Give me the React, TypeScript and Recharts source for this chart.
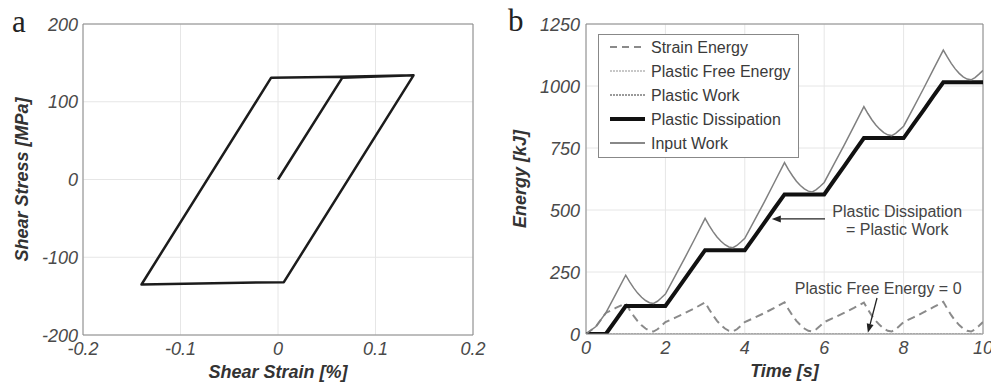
import React from 'react';
import {
  LineChart,
  Line,
  XAxis,
  YAxis,
  CartesianGrid,
  ReferenceLine,
  ReferenceDot,
  Legend,
} from 'recharts';

const FONT = '"Liberation Sans", Arial, Helvetica, sans-serif';

// ---------- Panel a: hysteresis loop ----------
const strainValues = [0, 0.066, 0.139, 0.006, -0.14, -0.007, 0.066, 0.139];
const stressValues = [0, 131, 134, -132, -135, 131, 132, 134];
const strainTicks = [-0.2, -0.1, 0, 0.1, 0.2];
const stressTicks = [-200, -100, 0, 100, 200];

// ---------- Panel b: energies vs time ----------
const timeValues = [
  0, 0.25, 0.5, 0.75, 1,
  1.1, 1.2, 1.3, 1.4, 1.5, 1.6, 1.7, 1.8, 1.9, 2, 2.25, 2.5, 2.75, 3,
  3.1, 3.2, 3.3, 3.4, 3.5, 3.6, 3.7, 3.8, 3.9, 4, 4.25, 4.5, 4.75, 5,
  5.1, 5.2, 5.3, 5.4, 5.5, 5.6, 5.7, 5.8, 5.9, 6, 6.25, 6.5, 6.75, 7,
  7.1, 7.2, 7.3, 7.4, 7.5, 7.6, 7.7, 7.8, 7.9, 8, 8.25, 8.5, 8.75, 9,
  9.1, 9.2, 9.3, 9.4, 9.5, 9.6, 9.7, 9.8, 9.9, 10,
];
const strainEnergy = [
  0, 30, 85, 105, 124,
  97, 73, 52, 35, 22, 13, 10, 19, 33, 48, 66, 85, 105, 128,
  100, 75, 53, 36, 22, 13, 10, 19, 33, 48, 66, 85, 106, 128,
  100, 75, 53, 36, 22, 13, 10, 19, 33, 48, 66, 85, 105, 127,
  99, 74, 53, 36, 22, 13, 10, 19, 33, 48, 67, 87, 108, 130,
  102, 76, 54, 36, 22, 13, 10, 19, 33, 48,
];
const plasticDissipation = [
  0, 0, 0, 56, 113,
  113, 113, 113, 113, 113, 113, 113, 113, 113, 113, 169, 225, 282, 338,
  338, 338, 338, 338, 338, 338, 338, 338, 338, 338, 394, 450, 507, 563,
  563, 563, 563, 563, 563, 563, 563, 563, 563, 563, 620, 676, 733, 790,
  790, 790, 790, 790, 790, 790, 790, 790, 790, 790, 846, 902, 959, 1015,
  1015, 1015, 1015, 1015, 1015, 1015, 1015, 1015, 1015, 1015,
];
const inputWork = [
  0, 30, 85, 161, 237,
  210, 186, 165, 148, 135, 126, 123, 132, 146, 161, 235, 310, 387, 466,
  438, 413, 391, 374, 360, 351, 348, 357, 371, 386, 460, 535, 613, 691,
  663, 638, 616, 599, 585, 576, 573, 582, 596, 611, 686, 761, 838, 917,
  889, 864, 843, 826, 812, 803, 800, 809, 823, 838, 913, 989, 1067, 1145,
  1117, 1091, 1069, 1051, 1037, 1028, 1025, 1034, 1048, 1063,
];
// Plastic Work equals Plastic Dissipation (as annotated in the figure)
const plasticWork = plasticDissipation;
const freeEnergyTime = [0, 10];
const freeEnergyValues = [0, 0];
const timeTicks = [0, 2, 4, 6, 8, 10];
const energyTicks = [0, 250, 500, 750, 1000, 1250];

const legendItems = [
  { label: 'Strain Energy', stroke: '#8a8a8a', width: 2, dash: '7 5' },
  { label: 'Plastic Free Energy', stroke: '#c8c8c8', width: 2, dash: '2 1' },
  { label: 'Plastic Work', stroke: '#9a9a9a', width: 2, dash: '2 1' },
  { label: 'Plastic Dissipation', stroke: '#111', width: 4, dash: undefined },
  { label: 'Input Work', stroke: '#888', width: 2, dash: undefined },
];

const loopData = strainValues.map((s, i) => ({ strain: s, stress: stressValues[i] }));
const energyData = timeValues.map((t, i) => ({
  t,
  se: strainEnergy[i],
  pd: plasticDissipation[i],
  pw: plasticWork[i],
  iw: inputWork[i],
}));
const freeData = freeEnergyTime.map((t, i) => ({ t, pfe: freeEnergyValues[i] }));

const tickStyle = {
  fontFamily: FONT,
  fontSize: 18,
  fontStyle: 'italic' as const,
  fill: '#4a4a4a',
};

const XTick = (props: any) => {
  const { x, y, payload } = props;
  return (
    <text x={x} y={y + 20} textAnchor="middle" {...tickStyle}>
      {String(payload.value)}
    </text>
  );
};

const YTickA = (props: any) => {
  const { x, y, payload } = props;
  return (
    <text x={x - 5} y={y + 6.5} textAnchor="end" {...tickStyle}>
      {String(payload.value)}
    </text>
  );
};
const YTickB = (props: any) => {
  const { x, y, payload } = props;
  return (
    <text x={x - 6} y={y + 6.5} textAnchor="end" {...tickStyle}>
      {String(payload.value)}
    </text>
  );
};

const titleStyle = {
  fontFamily: FONT,
  fontSize: 18,
  fontStyle: 'italic' as const,
  fontWeight: 'bold' as const,
  fill: '#333',
};

const makeXTitle = (text: string) => (props: any) => {
  const vb = props.viewBox || {};
  const cx = (vb.x ?? 0) + (vb.width ?? 0) / 2;
  const y = (vb.y ?? 0) + 43;
  return (
    <text x={cx} y={y} textAnchor="middle" {...titleStyle}>
      {text}
    </text>
  );
};

const makeYTitle = (text: string, fromRight: number) => (props: any) => {
  const vb = props.viewBox || {};
  const x = (vb.x ?? 0) + (vb.width ?? 0) - fromRight;
  const cy = (vb.y ?? 0) + (vb.height ?? 0) / 2;
  return (
    <text
      x={x}
      y={cy}
      textAnchor="middle"
      transform={`rotate(-90, ${x}, ${cy})`}
      {...titleStyle}
    >
      {text}
    </text>
  );
};

const ArrowShape = (props: any) => {
  const { x1, y1, x2, y2 } = props;
  const ang = Math.atan2(y2 - y1, x2 - x1);
  const L = 9;
  const W = 3.5;
  const bx = x2 - L * Math.cos(ang);
  const by = y2 - L * Math.sin(ang);
  const px = -Math.sin(ang) * W;
  const py = Math.cos(ang) * W;
  return (
    <g>
      <line x1={x1} y1={y1} x2={bx} y2={by} stroke="#222" strokeWidth={1.3} />
      <polygon points={`${x2},${y2} ${bx + px},${by + py} ${bx - px},${by - py}`} fill="#222" />
    </g>
  );
};

const annoStyle = { fontFamily: FONT, fontSize: 16, fill: '#444' };

const DissipationText = (props: any) => {
  const { cx, cy } = props;
  return (
    <g>
      <text x={cx} y={cy} textAnchor="middle" {...annoStyle}>
        Plastic Dissipation
      </text>
      <text x={cx} y={cy + 18} textAnchor="middle" {...annoStyle}>
        = Plastic Work
      </text>
    </g>
  );
};

const FreeEnergyText = (props: any) => {
  const { cx, cy } = props;
  return (
    <text x={cx} y={cy} textAnchor="middle" {...annoStyle}>
      Plastic Free Energy = 0
    </text>
  );
};

const renderLegend = () => (
  <svg width={201} height={124} style={{ display: 'block' }}>
    <rect x={0.5} y={0.5} width={200} height={123} fill="#fff" stroke="#888" strokeWidth={1} />
    {legendItems.map((it, i) => {
      const cy = 13 + i * 24;
      return (
        <g key={it.label}>
          <line
            x1={12}
            x2={47}
            y1={cy}
            y2={cy}
            stroke={it.stroke}
            strokeWidth={it.width}
            strokeDasharray={it.dash}
          />
          <text x={53} y={cy + 5.8} fontFamily={FONT} fontSize={16} fill="#3a3a3a">
            {it.label}
          </text>
        </g>
      );
    })}
  </svg>
);

export default function App() {
  return (
    <div
      style={{
        position: 'absolute',
        left: 0,
        top: 0,
        width: 991,
        height: 383,
        background: '#fff',
        overflow: 'hidden',
      }}
    >
      <div style={{ position: 'absolute', left: 0, top: 0 }}>
        <LineChart
          width={495}
          height={383}
          data={loopData}
          margin={{ top: 24, right: 22, bottom: 0, left: 23 }}
        >
          <CartesianGrid stroke="#e6e6e6" />
          <XAxis
            type="number"
            dataKey="strain"
            domain={[-0.2, 0.2]}
            ticks={strainTicks}
            height={48}
            tickSize={0}
            tickMargin={0}
            tickLine={false}
            stroke="#888"
            tick={<XTick />}
            interval={0}
            allowDataOverflow
            label={makeXTitle('Shear Strain [%]')}
          />
          <YAxis
            type="number"
            domain={[-200, 200]}
            ticks={stressTicks}
            width={60}
            tickSize={0}
            tickMargin={0}
            tickLine={false}
            stroke="#888"
            tick={<YTickA />}
            interval={0}
            allowDataOverflow
            label={makeYTitle('Shear Stress [MPa]', 55)}
          />
          <ReferenceLine y={200} stroke="#888" strokeWidth={1} />
          <ReferenceLine x={0.2} stroke="#888" strokeWidth={1} />
          <Line
            type="linear"
            dataKey="stress"
            stroke="#1c1c1c"
            strokeWidth={2.5}
            dot={false}
            isAnimationActive={false}
            strokeLinejoin="round"
          />
        </LineChart>
      </div>

      <div style={{ position: 'absolute', left: 495, top: 0 }}>
        <LineChart
          width={496}
          height={383}
          data={energyData}
          margin={{ top: 24, right: 8, bottom: 0, left: 21 }}
        >
          <CartesianGrid stroke="#e6e6e6" />
          <XAxis
            type="number"
            dataKey="t"
            domain={[0, 10]}
            ticks={timeTicks}
            height={49}
            tickSize={0}
            tickMargin={0}
            tickLine={false}
            stroke="#888"
            tick={<XTick />}
            interval={0}
            allowDataOverflow
            label={makeXTitle('Time [s]')}
          />
          <YAxis
            type="number"
            domain={[0, 1250]}
            ticks={energyTicks}
            width={70}
            tickSize={0}
            tickMargin={0}
            tickLine={false}
            stroke="#888"
            tick={<YTickB />}
            interval={0}
            allowDataOverflow
            label={makeYTitle('Energy [kJ]', 60)}
          />
          <ReferenceLine y={1250} stroke="#888" strokeWidth={1} />
          <ReferenceLine x={10} stroke="#888" strokeWidth={1} />
          <Legend
            layout="vertical"
            align="center"
            verticalAlign="middle"
            wrapperStyle={{ left: 103, top: 34, width: 201, height: 124 }}
            content={renderLegend}
          />
          <Line
            data={freeData}
            dataKey="pfe"
            type="linear"
            stroke="#c8c8c8"
            strokeWidth={2}
            strokeDasharray="2 1"
            dot={false}
            isAnimationActive={false}
            legendType="none"
          />
          <Line
            dataKey="se"
            type="linear"
            stroke="#8a8a8a"
            strokeWidth={2}
            strokeDasharray="8 5"
            dot={false}
            isAnimationActive={false}
          />
          <Line
            dataKey="pw"
            type="linear"
            stroke="#9a9a9a"
            strokeWidth={1.5}
            strokeDasharray="2 1"
            dot={false}
            isAnimationActive={false}
          />
          <Line
            dataKey="pd"
            type="linear"
            stroke="#111"
            strokeWidth={4}
            dot={false}
            isAnimationActive={false}
          />
          <Line
            dataKey="iw"
            type="linear"
            stroke="#808080"
            strokeWidth={1.5}
            dot={false}
            isAnimationActive={false}
          />
          <ReferenceLine
            segment={[
              { x: 6.02, y: 464 },
              { x: 4.68, y: 464 },
            ]}
            shape={ArrowShape}
          />
          <ReferenceLine
            segment={[
              { x: 7.33, y: 145 },
              { x: 7.1, y: 5 },
            ]}
            shape={ArrowShape}
          />
          <ReferenceDot x={7.84} y={470} r={0} shape={DissipationText} />
          <ReferenceDot x={7.36} y={161} r={0} shape={FreeEnergyText} />
        </LineChart>
      </div>

      <svg
        width={991}
        height={383}
        style={{ position: 'absolute', left: 0, top: 0, pointerEvents: 'none' }}
      >
        <text x={12} y={32} fontFamily='"Liberation Serif", "Times New Roman", serif' fontSize={31} fill="#222">
          a
        </text>
        <text x={508} y={31} fontFamily='"Liberation Serif", "Times New Roman", serif' fontSize={31} fill="#222">
          b
        </text>
      </svg>
    </div>
  );
}
